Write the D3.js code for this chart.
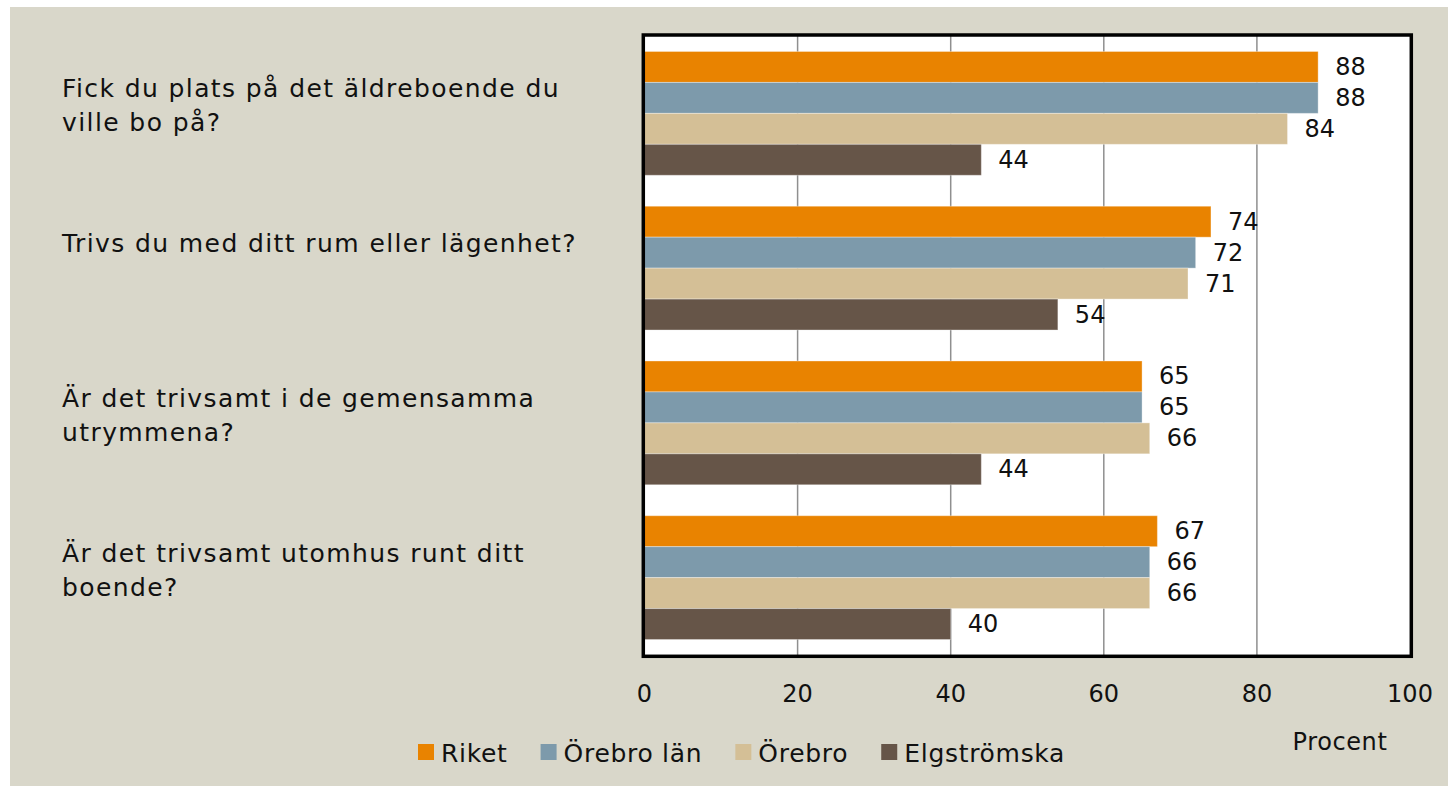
<!DOCTYPE html>
<html>
<head>
<meta charset="utf-8">
<script src="https://cdn.jsdelivr.net/npm/d3@7"></script>
<style>
  html, body { margin: 0; padding: 0; background: #ffffff; }
  svg { display: block; }
  text { font-family: "Century Gothic", "DejaVu Sans", sans-serif; fill: #111; }
</style>
</head>
<body>
<svg id="chart" width="1448" height="787"></svg>
<script>
/** Question labels, already split into the lines shown. */
const categories = [
  ["Fick du plats på det äldreboende du", "ville bo på?"],
  ["Trivs du med ditt rum eller lägenhet?"],
  ["Är det trivsamt i de gemensamma", "utrymmena?"],
  ["Är det trivsamt utomhus runt ditt", "boende?"],
];
const series = ["Riket", "Örebro län", "Örebro", "Elgströmska"];
const colors = ["#e98300", "#7d9aab", "#d4bf96", "#665548"];
const riket = [88, 74, 65, 67];
const orebroLan = [88, 72, 65, 66];
const orebro = [84, 71, 66, 66];
const elgstromska = [44, 54, 44, 40];
const xTicks = [0, 20, 40, 60, 80, 100];
const xTitle = "Procent";

const values = [riket, orebroLan, orebro, elgstromska];

const svg = d3.select("#chart");
const W = 1448, H = 787;

// beige panel
svg.append("rect").attr("x", 10).attr("y", 7).attr("width", W - 10).attr("height", 779)
  .attr("fill", "#d9d7ca");

const plot = { left: 644.5, right: 1410, top: 36, bottom: 655 };

const x = d3.scaleLinear().domain([0, 100]).range([plot.left, plot.right]);
const y = d3.scaleBand().domain(d3.range(categories.length))
  .range([plot.top, plot.bottom]).paddingInner(0.2).paddingOuter(0.1);
const ySub = d3.scaleBand().domain(d3.range(series.length)).range([0, y.bandwidth()]);

// plot background
svg.append("rect").attr("x", plot.left).attr("y", plot.top)
  .attr("width", plot.right - plot.left).attr("height", plot.bottom - plot.top)
  .attr("fill", "#ffffff");

// gridlines
svg.append("g").selectAll("line").data(xTicks.slice(1, -1)).join("line")
  .attr("x1", d => x(d)).attr("x2", d => x(d))
  .attr("y1", plot.top).attr("y2", plot.bottom)
  .attr("stroke", "#8f8f8f").attr("stroke-width", 1.5);

// bars
const groups = svg.append("g").selectAll("g").data(categories).join("g")
  .attr("transform", (d, i) => `translate(0,${y(i)})`);

groups.each(function (_, ci) {
  const g = d3.select(this);
  const rows = series.map((s, si) => ({ si, v: values[si][ci] }));
  g.selectAll("rect").data(rows).join("rect")
    .attr("x", x(0)).attr("y", d => ySub(d.si))
    .attr("width", d => x(d.v) - x(0)).attr("height", ySub.bandwidth())
    .attr("fill", d => colors[d.si])
    .attr("stroke", "rgba(255,255,255,0.35)").attr("stroke-width", 1);
  g.selectAll("text.val").data(rows).join("text").attr("class", "val")
    .attr("x", d => x(d.v) + 17).attr("y", d => ySub(d.si) + ySub.bandwidth() / 2)
    .attr("dominant-baseline", "central").attr("font-size", 24)
    .text(d => d.v);
});

// plot border
svg.append("rect").attr("x", 643.3).attr("y", 35)
  .attr("width", 1411.3 - 643.3).attr("height", 656.3 - 35)
  .attr("fill", "none").attr("stroke", "#000").attr("stroke-width", 3.5);

// category labels
svg.append("g").selectAll("text").data(categories).join("text")
  .attr("x", 62).attr("font-size", 25).attr("letter-spacing", 1.4)
  .each(function (lines, i) {
    const base = y(i) + y.bandwidth() / 2 - 16;
    d3.select(this).selectAll("tspan").data(lines).join("tspan")
      .attr("x", 62).attr("y", (_, j) => base + j * 34).text(t => t);
  });

// x tick labels
svg.append("g").selectAll("text").data(xTicks).join("text")
  .attr("x", d => x(d)).attr("y", 702).attr("text-anchor", "middle")
  .attr("font-size", 24).text(d => d);

svg.append("text").attr("x", 1340).attr("y", 750).attr("text-anchor", "middle")
  .attr("font-size", 24).attr("letter-spacing", 0.6).text(xTitle);

// legend
const legend = svg.append("g");
let lx = 418;
series.forEach((s, i) => {
  legend.append("rect").attr("x", lx).attr("y", 744).attr("width", 16).attr("height", 16)
    .attr("fill", colors[i]);
  const t = legend.append("text").attr("x", lx + 23).attr("y", 762)
    .attr("font-size", 25).attr("letter-spacing", 0.7).text(s);
  lx += 23 + t.node().getComputedTextLength() + 33;
});
</script>
</body>
</html>
